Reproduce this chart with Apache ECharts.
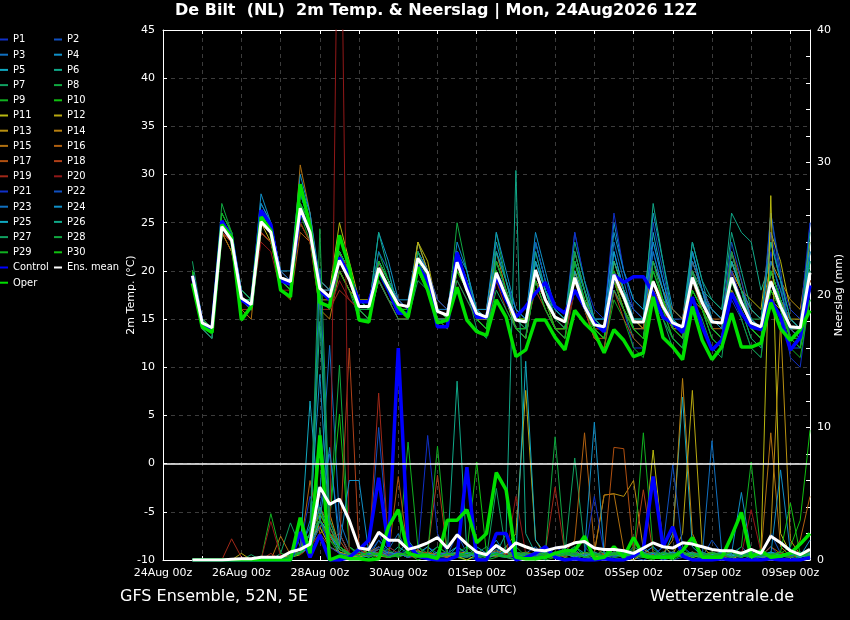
<!DOCTYPE html>
<html><head><meta charset="utf-8">
<script src="https://cdn.jsdelivr.net/npm/echarts@6/dist/echarts.min.js"></script>
<style>html,body{margin:0;padding:0;background:#000;}#c{width:850px;height:620px;}</style>
</head><body><div id="c"></div>
<script>
const FONT = "'DejaVu Sans', sans-serif";
const LEGEND_FONT = "'DejaVu Sans Condensed', 'DejaVu Sans', sans-serif";
const titleText = 'De Bilt  (NL)  2m Temp. & Neerslag | Mon, 24Aug2026 12Z';
const firstHour = 18, stepHours = 6; // 24Aug 18Z, 6-hourly, hours since 24Aug 00Z
const dateLabels = ['24Aug 00z','26Aug 00z','28Aug 00z','30Aug 00z','01Sep 00z','03Sep 00z','05Sep 00z','07Sep 00z','09Sep 00z'];
const memberNames = ['P1','P2','P3','P4','P5','P6','P7','P8','P9','P10','P11','P12','P13','P14','P15','P16','P17','P18','P19','P20','P21','P22','P23','P24','P25','P26','P27','P28','P29','P30'];

// ---- 2m temperature (°C) ----
const tMean = [19.5, 14.6,14.1,24.6,23.2, 17.2,16.5,25.1,24.0, 19.3,18.9,26.5,24.0, 18.2,17.3,21.1,19.1, 16.3,16.3,20.3,18.3, 16.5,16.3,21.3,19.8, 15.8,15.4,20.9,18.0, 15.6,15.2,19.8,17.3, 14.9,14.7,20.1,17.0, 15.2,14.7,19.3,16.3, 14.4,14.2,19.6,17.3, 14.7,14.7,18.9,16.3, 14.6,14.2,19.3,16.7, 14.7,14.6,19.3,16.7, 14.6,14.2,18.9,16.3, 14.2,14.1,19.8];
const tControl = [19.5, 14.5,14.0,25.2,23.5, 17.0,16.3,26.3,24.8, 19.0,18.6,26.3,24.2, 18.0,17.0,21.4,19.5, 16.8,16.8,20.0,18.0, 15.6,15.6,20.5,19.0, 14.2,14.2,21.9,18.5, 15.2,15.2,19.5,17.0, 15.2,16.3,17.7,18.8, 16.3,15.6,18.0,16.3, 14.6,13.7,19.6,18.8, 19.4,19.4,17.7,15.2, 14.6,13.6,17.3,14.2, 11.8,12.8,17.7,15.6, 14.2,13.9,17.0,15.2, 11.8,13.1,18.5];
const tOper = [18.7, 14.2,13.6,24.8,23.5, 14.9,16.3,25.6,24.2, 18.0,17.3,29.0,24.6, 16.7,16.3,23.7,20.4, 14.9,14.7,20.1,18.3, 16.3,15.2,20.4,18.0, 14.6,14.9,18.3,14.9, 13.7,13.3,17.0,15.2, 11.1,11.8,14.9,14.9, 13.1,11.8,15.9,14.6, 13.6,11.5,13.9,12.8, 11.1,11.5,17.3,13.1, 12.1,10.8,16.3,12.8, 10.8,12.1,15.6,12.1, 12.1,12.5,16.7,14.0, 12.8,13.9,15.9];
const tP1 = [20, 15,14,24,23, 17,16,25,24, 19,18,27,25, 18,17,22,19, 16,16,21,19, 17,16,22,20, 16,15,22,19, 15,14,20,18, 14,13,19,17, 15,14,21,17, 14,13,18,16, 12,12,17,15, 13,12,20,17, 14,13,17,15, 12,11,22,17, 11,10,18];
const tP2 = [19, 15,14,25,23, 17,17,26,24, 19,19,28,25, 19,18,22,20, 17,16,20,18, 16,16,22,20, 16,16,21,18, 16,15,21,18, 15,14,22,18, 16,15,24,19, 15,14,22,18, 15,14,20,17, 15,15,21,18, 16,15,19,17, 14,13,26,19, 12,12,25];
const tP3 = [20, 14,14,24,23, 18,17,27,25, 20,19,27,24, 18,17,21,19, 16,16,21,19, 17,16,21,19, 15,15,20,18, 15,14,20,17, 14,14,19,17, 15,14,20,16, 14,13,21,18, 16,15,22,18, 14,13,18,16, 13,12,20,17, 15,14,19,17, 15,14,21];
const tP4 = [20, 15,14,25,24, 18,17,28,25, 20,19,29,26, 18,18,22,20, 17,16,24,21, 17,17,23,20, 17,16,22,20, 16,16,23,19, 16,15,23,19, 16,15,20,17, 15,15,25,20, 17,16,26,21, 16,15,23,19, 15,14,21,18, 15,14,20,17, 14,13,23];
const tP5 = [19, 15,14,25,23, 17,16,24,23, 19,18,26,24, 18,17,21,19, 16,15,19,17, 16,16,21,19, 16,15,21,18, 15,15,19,17, 15,14,20,17, 14,14,18,16, 14,13,19,16, 14,14,24,19, 15,14,22,18, 14,13,20,17, 14,14,19,17, 15,14,20];
const tP6 = [20, 15,14,25,24, 17,17,26,24, 19,19,27,24, 18,17,21,20, 17,16,21,19, 17,16,20,19, 16,15,22,19, 15,14,20,17, 14,13,23,19, 15,15,18,16, 14,14,19,17, 15,14,19,17, 16,15,20,18, 17,16,26,24, 23,18,21,18, 14,13,18];
const tP7 = [21, 15,14,26,24, 18,17,25,24, 19,19,26,24, 17,16,20,18, 15,15,20,18, 16,15,21,19, 15,15,21,18, 14,13,19,17, 14,13,20,17, 14,13,18,16, 13,12,18,16, 13,12,17,15, 12,11,19,16, 14,13,18,16, 13,12,20,17, 14,13,19];
const tP8 = [19, 14,13,27,24, 17,16,25,24, 19,18,26,24, 18,17,21,20, 17,16,22,19, 16,16,21,19, 16,15,25,20, 15,14,24,19, 15,15,21,18, 16,15,19,17, 15,14,21,18, 15,15,20,17, 14,14,22,18, 15,14,21,18, 15,15,20,17, 14,14,22];
const tP9 = [20, 15,14,24,23, 17,16,25,24, 19,18,26,23, 18,17,21,19, 16,16,19,17, 16,16,22,20, 16,15,20,18, 16,15,19,17, 14,14,21,18, 15,14,20,17, 13,12,17,15, 12,11,17,15, 13,12,18,16, 13,12,18,15, 12,11,19,16, 12,11,17];
const tP10 = [20, 14,14,25,23, 17,16,24,23, 19,18,25,23, 17,17,20,18, 16,15,20,18, 16,16,21,19, 15,15,20,18, 15,14,20,17, 14,14,20,17, 15,14,21,18, 14,13,20,17, 15,14,19,16, 14,13,20,17, 14,13,21,18, 15,14,18,16, 14,14,20];
const tP11 = [20, 15,14,24,22, 17,16,25,23, 19,19,26,24, 18,18,25,21, 17,17,21,19, 17,16,23,21, 16,16,21,19, 16,15,21,18, 15,15,21,18, 15,14,20,17, 15,14,21,18, 16,15,21,18, 15,14,19,17, 15,14,20,18, 17,16,24,21, 16,15,20];
const tP12 = [19, 15,14,24,23, 17,17,25,24, 19,19,27,24, 18,17,22,19, 16,16,20,18, 17,16,23,20, 16,15,21,18, 16,15,20,17, 14,13,19,17, 14,14,22,18, 14,13,19,16, 14,13,18,16, 14,13,17,16, 15,14,21,18, 15,14,17,16, 15,15,19];
const tP13 = [20, 14,14,24,23, 18,17,26,25, 20,19,29,25, 19,18,22,19, 16,16,21,19, 16,16,22,20, 16,15,21,19, 16,16,22,18, 15,15,20,17, 15,14,19,17, 15,14,20,18, 14,13,18,16, 15,14,21,18, 16,15,20,18, 16,15,21,19, 17,16,23];
const tP14 = [20, 15,14,24,23, 17,16,24,23, 19,18,25,23, 16,15,20,18, 17,16,20,18, 16,16,21,19, 16,15,20,18, 16,16,20,17, 15,14,19,17, 15,15,20,17, 14,13,19,17, 15,14,19,17, 14,14,20,17, 14,13,18,16, 14,13,20,17, 14,14,19];
const tP15 = [19, 14,13,25,23, 16,15,25,24, 19,18,31,26, 18,17,20,18, 16,15,19,17, 15,15,20,18, 15,14,20,18, 15,15,21,18, 15,14,20,17, 15,14,20,17, 14,13,19,16, 14,13,18,16, 14,13,19,16, 14,14,21,18, 14,13,19,16, 13,12,18];
const tP16 = [20, 15,14,24,22, 17,16,24,23, 18,17,24,23, 18,17,21,19, 17,16,21,18, 16,15,20,19, 16,15,20,18, 15,14,20,17, 15,14,20,17, 15,14,19,16, 14,14,20,17, 15,14,19,17, 15,14,20,17, 15,15,22,18, 15,14,19,16, 14,14,18];
const tP17 = [20, 15,14,24,23, 17,17,25,24, 19,19,26,24, 18,17,20,18, 16,15,20,18, 16,15,20,18, 15,15,21,18, 16,15,20,17, 15,14,19,16, 14,13,19,16, 13,13,18,16, 14,14,21,18, 16,15,21,18, 15,14,22,18, 16,15,20,17, 15,14,19];
const tP18 = [20, 15,14,25,23, 17,16,24,23, 19,18,27,24, 17,17,21,19, 16,16,21,18, 16,15,22,20, 17,16,21,19, 15,14,19,17, 15,14,18,16, 14,14,19,16, 13,12,18,15, 13,12,18,16, 14,13,20,17, 15,14,22,19, 15,14,18,16, 14,13,18];
const tP19 = [19, 14,14,24,23, 16,16,24,23, 19,19,26,24, 17,16,18,17, 16,15,19,17, 15,15,20,18, 16,15,19,17, 15,14,19,16, 14,13,19,17, 15,14,18,16, 14,13,19,16, 14,13,18,16, 14,13,19,17, 15,14,20,17, 14,14,18,16, 14,13,19];
const tP20 = [20, 15,14,24,23, 17,16,23,22, 18,18,25,23, 16,16,19,17, 16,15,20,18, 16,15,20,18, 15,15,20,18, 15,14,19,17, 15,14,20,17, 14,13,18,16, 14,14,20,17, 14,13,19,16, 14,13,19,17, 14,13,20,17, 14,13,19,16, 14,14,19];
const tP21 = [20, 15,14,25,23, 17,17,26,24, 19,18,27,24, 18,17,21,19, 16,16,20,18, 17,16,21,20, 16,15,21,19, 16,15,21,18, 15,14,21,18, 15,14,24,19, 16,15,26,20, 16,15,23,19, 15,14,19,17, 15,14,20,17, 15,14,24,19, 16,15,25];
const tP22 = [20, 15,14,25,24, 17,17,26,24, 20,19,28,25, 18,18,22,20, 17,16,21,19, 17,16,22,20, 17,16,21,19, 16,15,22,19, 16,15,23,19, 16,15,21,18, 15,14,22,18, 16,15,25,20, 15,14,22,18, 16,15,23,19, 15,14,26,20, 13,12,22];
const tP23 = [19, 14,13,25,23, 18,17,26,24, 19,19,28,25, 18,17,21,19, 16,16,22,20, 16,15,21,19, 16,16,22,19, 16,15,22,19, 15,14,21,18, 16,15,22,18, 15,14,23,19, 15,15,22,18, 14,13,21,18, 14,13,22,18, 14,13,21,18, 14,13,20];
const tP24 = [20, 15,14,25,23, 18,17,27,25, 20,20,30,26, 19,18,22,20, 16,16,21,19, 16,16,22,20, 16,15,23,20, 16,16,24,20, 16,15,24,20, 16,15,21,18, 15,15,24,20, 17,16,23,19, 15,14,22,18, 15,14,21,18, 16,15,23,19, 15,14,22];
const tP25 = [20, 15,14,25,23, 17,16,25,24, 19,18,26,24, 18,17,21,19, 16,15,20,18, 16,15,20,18, 15,15,21,18, 15,14,20,17, 15,14,21,18, 15,14,20,17, 15,14,22,18, 14,13,21,18, 15,14,20,17, 16,15,21,18, 15,14,20,17, 14,14,21];
const tP26 = [20, 15,14,25,23, 17,17,26,24, 19,19,27,25, 18,17,22,20, 17,16,24,20, 16,16,21,19, 16,15,21,19, 16,15,22,19, 15,14,22,18, 16,15,23,19, 15,14,21,18, 15,15,27,21, 15,14,23,19, 17,16,24,20, 16,15,23,19, 15,14,24];
const tP27 = [20, 14,13,25,23, 17,16,25,24, 19,18,26,24, 18,17,21,19, 16,15,19,17, 15,15,19,18, 16,15,19,17, 15,14,18,16, 14,13,19,16, 14,13,21,17, 14,13,18,16, 14,13,19,16, 13,12,17,15, 12,11,19,16, 13,12,18,16, 13,12,17];
const tP28 = [19, 15,14,26,24, 17,17,26,24, 19,19,27,25, 18,17,21,19, 16,16,20,18, 16,15,22,19, 16,15,21,18, 15,14,21,18, 15,14,20,17, 15,14,22,18, 14,13,20,17, 14,13,21,17, 14,13,20,17, 14,13,22,18, 14,13,20,17, 13,13,21];
const tP29 = [20, 15,14,26,24, 18,17,26,24, 19,18,27,24, 17,16,20,18, 16,15,20,18, 16,15,21,19, 15,14,20,18, 15,14,21,18, 14,13,19,16, 14,13,21,17, 14,13,20,17, 14,13,19,16, 13,12,18,16, 13,12,19,16, 14,13,20,17, 13,13,18];
const tP30 = [20, 15,14,25,24, 17,16,25,24, 19,18,27,24, 18,17,22,20, 17,16,21,19, 16,16,21,19, 16,15,20,18, 15,14,20,17, 15,15,20,17, 14,14,19,16, 14,13,19,16, 14,13,20,17, 14,13,18,16, 14,13,19,17, 14,13,18,16, 13,12,17];

// ---- precipitation (mm per 6 h) ----
const pMean = [0, 0,0,0,0.05, 0.1,0.1,0.2,0.2, 0.2,0.6,0.8,1.2, 5.5,4.2,4.6,3.0, 0.9,0.8,2.1,1.5, 1.5,0.8,1.0,1.3, 1.7,0.9,1.9,1.2, 0.6,0.4,1.1,0.6, 1.3,1.0,0.75,0.7, 0.9,1.0,1.3,1.4, 0.9,0.8,0.8,0.7, 0.5,0.9,1.3,1.0, 0.9,1.3,1.2,1.0, 0.8,0.7,0.7,0.5, 0.8,0.5,1.8,1.3, 0.7,0.4,0.8];
const pControl = [0, 0,0,0,0, 0,0,0,0, 0,0,2.1,0.2, 1.9,0,0,0.2, 0.8,1.5,6.2,1.0, 16.0,1.2,0.3,0.1, 0,0,0.3,7.0, 0,0,2.0,2.0, 0,0.2,0.5,1.0, 0.2,0,0.1,0, 0,0.1,0,0, 0.3,0.8,6.3,1.0, 2.5,0.3,0,0, 0,0.1,0,0, 0,0,0.1,0, 0,0,0.2];
const pOper = [0, 0,0,0,0, 0,0,0,0, 0,0,3.2,0.5, 9.4,0,0.3,0.1, 0.1,0,0.1,2.5, 3.8,0.5,0.3,0.3, 0.1,3.0,3.0,3.8, 1.3,2.0,6.6,5.3, 0.2,0.1,0.1,0.2, 0.5,0.7,0.7,1.8, 0.1,0.2,1.0,0.2, 1.7,0.3,0.2,0.2, 0.2,0.7,1.7,0.2, 0.2,0.2,1.8,3.6, 0.2,0.7,0.2,0.3, 0.5,1.2,2.0];
const pP1 = [0, 0,0,0,0, 0,0,0,0, 0,0.3,1,2, 3,1,0.5,0.2, 0.5,1,2,0.5, 0.3,1,0.5,9.4, 2,0.5,1,0.3, 0,0.5,1,0.2, 0,0.5,0.3,0, 1,0.5,0.2,0, 0.3,0.5,0,0.2, 0,0.5,1,0.3, 0,0.2,0.5,0, 0.3,0,0.2,0.5, 0,0.3,1,0.2, 0,0.2,0.5];
const pP2 = [0, 0,0,0,0, 0,0,0,0.2, 0,0.5,0.8,1.5, 4,8,2,0.5, 0.3,0.5,10,1, 0.5,0.2,0.3,1, 0.5,0.3,2,0.5, 0.2,0,0.5,1, 0.3,0.2,0,0.5, 0.2,1,0.5,0.3, 0,0.2,0.8,0.5, 0.2,0,0.3,1, 0.5,0.3,0,0.2, 1.5,0.5,0.2,0, 0.3,0.5,2,0.5, 0.2,0,0.3];
const pP3 = [0, 0,0,0,0, 0,0,0,0, 0.2,0.3,1,2.5, 5,16.2,3,1, 0.5,0.2,1.5,0.8, 2,0.5,0.3,0.5, 1,0.5,0.3,0.2, 0.5,0.3,0.8,0.3, 0,0.5,1,0.2, 0.3,0.5,0.8,0.2, 0,0.3,0.5,0.2, 0.5,1,0.3,0, 0.2,0.5,0.3,0.2, 0,0.3,0.5,1, 0.3,0,0.5,0.3, 0.2,0.5,0];
const pP4 = [0, 0,0,0,0, 0,0,0,0, 0,0.2,0.5,3, 14,2,1,0.5, 0.3,0.5,1,0.3, 0.5,1.5,0.5,0.2, 0.3,0.2,1,0.5, 0.2,0.5,1.5,0.3, 0.2,0.5,0.3,0.2, 0.5,0.2,1,0.3, 0,0.2,0.3,0.5, 0.2,0.5,1,0.3, 0.5,0.2,0.3,0.5, 0.2,0.3,0.5,5.1, 0.5,0.2,0.3,0.5, 0.2,0.3,1.5];
const pP5 = [0, 0,0,0,0, 0,0,0,0, 0,0.3,0.8,12, 3,1.5,2,0.5, 0.2,0.3,1,0.5, 0.5,0.2,0.5,1, 0.3,0.5,0.2,0.3, 1,0.5,0.3,0.2, 0.5,0.3,0.5,0.2, 0.3,0.5,1,0.5, 0.2,0.3,0.5,0.2, 0.3,0.5,0.3,0.2, 2,12.3,1,0.3, 0.2,0.5,0.3,0.2, 0.5,0.3,0.2,0.5, 0.3,0.2,0.5];
const pP6 = [0, 0,0,0,0, 0,0,0,0, 0,0.2,0.5,2, 18,3,1,0.5, 0.5,0.2,0.5,0.3, 1,0.5,0.3,0.5, 0.2,0.5,1,0.5, 0.3,0.2,0.5,2, 29.4,2,0.5,0.3, 0.2,0.5,0.3,0.5, 0.2,0.3,0.5,0.2, 1,0.5,0.3,0.2, 0.5,0.3,0.5,0.2, 0.3,0.5,0.2,0.3, 0.5,0.2,0.3,0.5, 0.2,0.3,0.5];
const pP7 = [0, 0,0,0,0, 0,0.4,0,0, 0.5,2.8,1,0.5, 3,2,0.5,0.3, 0.2,0.5,1,0.3, 0.5,0.2,0.5,0.3, 0.2,0.5,0.3,0.2, 0.5,1,0.3,0.2, 0.3,0.5,0.2,0.5, 0.3,0.5,7.7,1, 0.2,0.3,0.5,0.2, 0.3,0.2,0.5,0.3, 0.2,0.5,0.3,0.2, 0.5,0.3,0.2,0.5, 0.3,0.2,0.5,0.3, 0.2,0.5,0.3];
const pP8 = [0, 0,0,0,0, 0,0,0,0, 0,0.2,0.5,1.5, 25,3,14.7,1, 0.5,0.3,0.5,0.2, 0.3,0.5,1,0.5, 0.2,0.3,0.5,0.3, 0.5,0.2,0.3,0.5, 0.2,0.3,0.5,0.2, 0.3,0.5,0.2,0.3, 0.5,0.3,0.2,0.5, 0.3,0.2,0.5,0.3, 0.2,0.5,0.3,0.2, 0.5,0.3,0.2,0.5, 0.3,0.2,0.5,0.3, 0.2,0.5,0.3];
const pP9 = [0, 0,0,0,0, 0,0,0,3.5, 0.5,0.3,1,2, 4,1.5,0.5,0.3, 1,0.5,0.3,0.5, 0.2,8.9,1,0.3, 0.5,0.2,0.5,1, 0.3,0,0.2,0.5, 1,0.3,0.5,0, 0.2,0.5,1,0.3, 0,0.5,0.2,0.3, 0.8,0.2,0,0.5, 0.3,1,0.2,0, 0.5,0.2,0.3,1, 7.4,0.5,0.2,0.3, 0.5,0,0.2];
const pP10 = [0, 0,0,0,0, 0,0,0,0, 0,0.2,0.5,1, 2,3,11,1, 0.3,0,0.5,0.8, 0.2,0.5,0,0.3, 1,0.5,0.2,0, 0.3,0.5,1.2,0.2, 0,0.3,0.5,0.2, 0.6,0.2,0,0.4, 0.3,0.8,0.2,0, 0.5,0.2,0.6,0.3, 0,0.4,0.2,0.5, 0.3,0,0.6,0.2, 0.4,0.2,0,0.5, 1,3,9.8];
const pP11 = [0, 0,0,0,0, 0,0,0,0, 0,0.2,0.4,1, 2.5,1,0.6,0.2, 0.4,0.8,0.3,0.2, 0.5,0.2,0.7,0.4, 0.2,0.6,0.3,0, 0.4,0.2,0.5,0.3, 0.6,0.2,0,0.4, 0.3,0.7,0.2,0.5, 0.2,0.4,0.6,0.3, 0,0.5,8.3,1.2, 0.3,0.5,0.2,0.4, 0.6,0.3,0,0.5, 0.2,0.6,27.5,2, 0.5,0.3,0.4];
const pP12 = [0, 0,0,0,0, 0.5,0,0,0, 0.2,0.3,0.5,1.2, 3,1.8,0.6,0.4, 0.2,0.5,0.8,0.3, 0.6,0.3,0.2,0.5, 0.4,0.2,0.6,0.3, 0.5,0.2,0.4,1, 2,12.8,1.5,0.3, 0.2,0.6,0.3,0.4, 0.5,0.2,0.4,0.3, 0.6,0.3,0.2,0.5, 0.4,2,12.8,1, 0.3,0.5,0.2,0.4, 0.6,0.2,0.3,0.5, 0.2,0.4,0.3];
const pP13 = [0, 0,0,0,0, 0,0,0,0, 0,0.3,0.6,1.5, 2.5,3.5,1,0.4, 0.3,0.6,0.4,0.2, 0.5,0.3,0.6,0.2, 0.4,0.3,0.5,0.6, 0.2,0.4,0.3,0.5, 0.6,0.2,0.4,0.3, 0.5,0.3,0.6,0.2, 0.5,4.9,5,4.8, 6,0.8,0.4,0.3, 0.5,0.2,0.4,0.6, 0.3,0.5,0.2,0.4, 0.6,0.3,2,18, 1.5,0.4,0.6];
const pP14 = [0, 0,0,0,0, 0,0,0,0, 0,0.2,0.5,2, 3.5,2,1,0.5, 0.3,0.5,0.2,0.6, 0.4,0.3,0.5,0.2, 0.6,0.4,0.3,0.5, 0.2,0.6,0.4,0.3, 0.5,0.2,0.6,0.4, 0.3,0.5,0.2,0.6, 0.4,0.3,0.5,0.2, 0.6,0.4,0.3,0.5, 1.5,13.7,2,0.4, 0.3,0.5,0.2,0.6, 0.4,0.3,0.5,0.2, 0.6,0.4,0.3];
const pP15 = [0, 0,0,0,0, 0,0,0,0, 1.8,0.4,0.6,1.5, 4,2.5,0.8,0.5, 0.3,0.6,1,0.4, 0.5,0.3,0.8,0.2, 0.4,0.6,0.3,0.5, 0.2,0.4,0.7,0.3, 0.5,0.2,0.4,0.6, 0.3,0.5,0.2,0.4, 0.6,4.9,5,0.8, 0.3,0.5,0.2,0.4, 0.6,0.3,0.5,0.2, 0.4,0.6,0.3,0.5, 0.2,0.4,9.6,1, 0.3,0.5,0.2];
const pP16 = [0, 0,0,0,0, 0,0,0,0, 0,0.3,0.8,6, 2,1,0.5,0.3, 0.6,0.4,0.8,0.3, 0.5,0.2,0.6,0.4, 0.3,0.5,0.2,0.6, 0.4,0.3,0.5,0.2, 0.6,0.4,0.3,0.5, 0.2,0.6,1.5,9.6, 1,0.4,0.3,0.5, 0.2,0.6,0.4,0.3, 0.5,0.2,0.6,0.4, 0.3,0.5,0.2,0.6, 0.4,0.3,1,0.5, 0.3,1.5,4.8];
const pP17 = [0, 0,0,0,0, 0,0,0,0, 0,0.2,0.6,1.2, 3,2,1.5,0.4, 0.3,0.6,0.8,0.4, 6.3,0.5,0.3,0.6, 0.4,0.2,0.5,0.3, 0.6,0.4,0.3,0.5, 0.2,0.6,0.4,0.3, 0.5,0.2,0.6,0.4, 0.3,0.5,8.5,8.4, 0.6,0.3,0.5,0.2, 0.4,0.6,0.3,0.5, 0.2,0.4,0.6,0.3, 0.5,0.2,0.4,0.6, 0.3,0.5,0.2];
const pP18 = [0, 0,0,0,0, 0,0,0,0, 0,0.3,0.6,1, 2,2.5,1,16, 0.8,0.4,0.6,0.3, 0.5,0.2,0.4,0.6, 6.4,0.5,0.3,0.4, 0.6,0.3,0.5,0.2, 0.4,0.6,0.3,0.5, 0.2,0.4,0.6,0.3, 0.5,0.2,0.4,0.6, 0.3,5.3,0.5,0.2, 0.4,0.6,0.3,0.5, 0.2,0.4,0.6,0.3, 0.5,0.2,0.4,0.6, 0.3,0.5,0.2];
const pP19 = [0, 0,0,0,1.6, 0.2,0,0,0.5, 0,0.3,0.8,1.5, 3,1.5,2,0.5, 0.3,0.6,12.6,1, 0.5,0.3,0.6,0.2, 0.4,0.6,0.3,0.5, 0.2,0.4,0.6,0.3, 0.5,0.2,0.4,0.6, 5.5,0.5,0.3,0.4, 0.6,0.3,0.5,0.2, 0.4,0.6,0.3,0.5, 0.2,0.4,0.6,0.3, 0.5,0.2,0.4,0.6, 0.3,0.5,0.2,0.4, 0.6,0.3,0.5];
const pP20 = [0, 0,0,0,0, 0,0,0,2.9, 0.3,0.5,0.4,1, 2,0.2,61,0.3, 0.5,0.3,0.8,0.4, 0.6,0.3,0.5,0.2, 0.4,0.6,0.3,0.5, 0.2,0.4,0.6,0.3, 4.8,0.5,0.2,0.4, 0.6,0.3,0.5,0.2, 0.4,0.6,0.3,0.5, 0.2,0.4,0.6,0.3, 0.5,0.2,0.4,0.6, 0.3,0.5,0.2,0.4, 3.8,0.6,0.3,0.5, 0.2,0.4,0.6];
const pP21 = [0, 0,0,0,0, 0,0,0,0, 0,0.2,1,4.8, 3,1,0.5,0.3, 0.6,0.4,1,0.3, 0.5,0.2,0.6,0.4, 0.3,0.5,0.2,0.6, 0.4,0.3,0.5,0.2, 0.6,0.4,0.3,0.5, 0.2,0.6,0.4,0.3, 4.8,0.5,0.2,0.6, 0.4,0.3,0.5,0.2, 0.6,0.4,0.3,0.5, 0.2,0.6,0.4,0.3, 0.5,0.2,0.6,0.4, 0.3,0.5,0.2];
const pP22 = [0, 0,0,0,0, 0,0,0,0, 0,0.3,0.5,1, 2.5,3,1,0.5, 0.3,0.5,1.5,0.4, 0.6,0.3,0.5,0.2, 0.4,0.6,0.3,0.5, 0.2,0.4,0.6,0.3, 0.5,0.2,0.4,0.6, 0.3,0.5,0.2,0.4, 0.6,0.3,0.5,0.2, 0.4,0.6,0.3,1, 7.2,1,0.4,0.6, 0.3,0.5,0.2,0.4, 0.6,0.3,0.5,0.2, 0.4,0.6,0.3];
const pP23 = [0, 0,0,0,0, 0,0,0,0, 0,0.2,0.5,1.5, 22,2,0.5,0.3, 0.6,0.4,0.8,0.3, 0.5,0.2,0.6,0.4, 0.3,0.5,0.2,0.6, 0.4,0.3,0.5,0.2, 0.6,0.4,0.3,0.5, 0.2,0.6,0.4,0.3, 0.5,0.2,0.6,0.4, 0.3,0.5,0.2,0.6, 0.4,0.3,0.5,0.2, 9,0.6,0.4,0.3, 0.5,0.2,0.6,0.4, 0.3,0.5,0.2];
const pP24 = [0, 0,0,0,0, 0,0,0,0, 0,0.3,0.6,2, 3,8.5,1,6, 6,0.5,0.3,0.6, 0.4,0.3,0.5,0.2, 0.6,0.4,0.3,0.5, 0.2,0.6,0.4,0.3, 0.5,0.2,0.6,0.4, 0.3,0.5,0.2,0.6, 10.4,0.5,0.3,0.4, 0.6,0.3,0.5,0.2, 0.4,0.6,0.3,0.5, 0.2,0.4,0.6,0.3, 0.5,0.2,0.4,6.8, 0.6,0.3,0.5];
const pP25 = [0, 0,0,0,0, 0,0,0,0, 0,0.2,0.5,1, 3,2,0.8,0.4, 0.3,0.6,0.5,0.2, 0.4,0.6,0.3,0.5, 0.2,0.4,0.6,0.3, 0.5,0.2,0.4,0.6, 0.3,15,1.5,0.5, 0.2,0.4,0.6,0.3, 0.5,0.2,0.4,0.6, 0.3,0.5,0.2,0.4, 0.6,0.3,0.5,0.2, 0.4,0.6,0.3,0.5, 0.2,0.4,0.6,0.3, 0.5,0.2,0.4];
const pP26 = [0, 0,0,0,0, 0,0,0,0, 0,0.2,0.6,1.5, 4,2,1,0.5, 0.3,0.6,0.4,0.2, 0.5,0.3,0.6,0.4, 0.2,0.5,13.5,0.6, 0.3,0.4,0.6,0.2, 0.5,0.3,0.4,0.6, 0.2,0.5,0.3,0.4, 0.6,0.2,0.5,0.3, 0.4,0.6,0.2,0.5, 0.3,0.4,0.6,0.2, 0.5,0.3,0.4,0.6, 0.2,0.5,0.3,0.4, 0.6,0.2,0.5];
const pP27 = [0, 0,0,0,0, 0,0,0,0, 0,0.3,0.8,2, 20,2.5,1,0.4, 0.6,0.3,0.5,0.2, 0.4,0.6,0.3,0.5, 0.2,0.4,0.6,0.3, 0.5,0.2,5.4,0.6, 0.3,0.5,0.2,0.4, 0.6,0.3,0.5,0.2, 0.4,0.6,0.3,0.5, 0.2,0.4,0.6,0.3, 0.5,0.2,0.4,0.6, 0.3,0.5,0.2,0.4, 0.6,0.3,0.5,0.2, 0.4,0.6,0.3];
const pP28 = [0, 0,0,0,0, 0,0,0,0, 0,0.2,0.5,1.5, 10,3,1,0.5, 0.3,0.6,0.4,0.2, 0.5,0.3,0.6,0.4, 0.2,0.5,0.3,0.6, 0.4,0.2,0.5,0.3, 0.6,0.4,0.2,0.5, 9.3,0.6,0.4,0.2, 0.5,0.3,0.6,0.4, 0.2,0.5,0.3,0.6, 0.4,0.2,0.5,0.3, 0.6,0.4,0.2,0.5, 0.3,0.6,0.4,0.2, 0.5,0.3,0.6];
const pP29 = [0, 0,0,0,0, 0,0,0,0, 0,0.3,0.6,1.5, 3,1.5,0.8,0.4, 0.6,0.3,0.5,0.2, 0.4,0.6,0.3,0.5, 8.6,0.5,0.3,0.4, 0.6,0.2,0.5,0.3, 0.4,0.6,0.2,0.5, 0.3,0.4,0.6,0.2, 0.5,0.3,0.4,0.6, 0.2,9.6,0.8,0.3, 0.4,0.6,0.2,0.5, 0.3,0.4,0.6,0.2, 0.5,0.3,0.4,0.6, 0.2,0.5,0.3];
const pP30 = [0, 0,0,0,0, 0,0,0,0, 0,0.2,0.5,1.2, 3.5,2,1,0.5, 0.3,0.6,0.4,0.2, 0.5,0.3,0.6,0.4, 0.2,0.5,0.3,0.6, 7.4,0.5,0.4,0.2, 0.5,0.3,0.6,0.4, 0.2,0.5,0.3,0.6, 0.4,0.2,0.5,0.3, 0.6,0.4,0.2,0.5, 0.3,0.6,0.4,0.2, 0.5,0.3,0.6,0.4, 0.2,0.5,0.3,0.6, 4.3,0.4,0.2];

const tempMembers = [tP1,tP2,tP3,tP4,tP5,tP6,tP7,tP8,tP9,tP10,tP11,tP12,tP13,tP14,tP15,tP16,tP17,tP18,tP19,tP20,tP21,tP22,tP23,tP24,tP25,tP26,tP27,tP28,tP29,tP30];
const precMembers = [pP1,pP2,pP3,pP4,pP5,pP6,pP7,pP8,pP9,pP10,pP11,pP12,pP13,pP14,pP15,pP16,pP17,pP18,pP19,pP20,pP21,pP22,pP23,pP24,pP25,pP26,pP27,pP28,pP29,pP30];

// ---- styles ----
const baseColors = ['#1030c8','#1050c0','#1070c0','#1090c8','#10a8c0','#10a888','#10a060','#10a840','#10b020','#10c010',
                    '#b8b810','#b8a810','#b89010','#b88010','#b07010','#b06010','#b05010','#b04018','#a02818','#901818'];
const memberColors = memberNames.map((n,k)=> baseColors[k < 20 ? k : k - 20]);
const CONTROL_COLOR = '#0000ff', OPER_COLOR = '#00e000', MEAN_COLOR = '#ffffff';

const toPairs = arr => arr.map((v,i)=>[firstHour + i*stepHours, v]);
function lineSeries(name, arr, yIdx, color, width, z){
  return {name, type:'line', xAxisIndex:0, yAxisIndex:yIdx, data:toPairs(arr), symbol:'none',
    lineStyle:{width, color}, itemStyle:{color}, silent:true, animation:false, z, clip:true};
}
const series = [];
tempMembers.forEach((a,k)=>series.push(lineSeries(memberNames[k], a, 0, memberColors[k], 1, 2)));
precMembers.forEach((a,k)=>series.push(lineSeries(memberNames[k], a, 1, memberColors[k], 1, 2)));
series[0].markLine = {silent:true, symbol:'none', label:{show:false}, animation:false,
  lineStyle:{color:'#ffffff', width:1.5, type:'solid'}, data:[{yAxis:0}]};
series.push(lineSeries('Control', tControl, 0, CONTROL_COLOR, 3.5, 3));
series.push(lineSeries('Control', pControl, 1, CONTROL_COLOR, 3.5, 3));
series.push(lineSeries('Oper', tOper, 0, OPER_COLOR, 3.5, 4));
series.push(lineSeries('Oper', pOper, 1, OPER_COLOR, 3.5, 4));
series.push(lineSeries('Ens. mean', tMean, 0, MEAN_COLOR, 3, 5));
series.push(lineSeries('Ens. mean', pMean, 1, MEAN_COLOR, 3, 5));

const legendCol1 = memberNames.filter((n,k)=>k%2===0).concat(['Control','Oper']);
const legendCol2 = memberNames.filter((n,k)=>k%2===1).concat(['Ens. mean']);
const legendBase = {orient:'vertical', top:33, itemWidth:8, itemHeight:2, itemGap:2.2, icon:'rect', padding:0,
  selectedMode:false, textStyle:{color:'#fff', fontSize:11, fontFamily:LEGEND_FONT, lineHeight:13}};

const white = {color:'#ffffff'};
const dashed = {color:'#3c3c3c', type:[4,4], width:1};

const option = {
  backgroundColor:'#000000',
  animation:false,
  textStyle:{fontFamily:FONT},
  grid:{left:163, right:40, top:30, bottom:60, containLabel:false, outerBoundsMode:'none'},
  legend:[Object.assign({}, legendBase, {left:0, data:legendCol1}), Object.assign({}, legendBase, {left:54, data:legendCol2})],
  xAxis:[
    {type:'value', min:0, max:396, interval:24, position:'bottom',
     axisLine:{show:true, onZero:false, lineStyle:white}, axisTick:{show:true, inside:true, length:4, lineStyle:white},
     axisLabel:{color:'#fff', fontSize:11, margin:8, fontFamily:FONT, formatter:v=> v%48===0 ? dateLabels[v/48] : ''},
     splitLine:{show:true, lineStyle:dashed},
     name:'Date (UTC)', nameLocation:'middle', nameGap:25, nameMoveOverlap:false, nameTextStyle:{color:'#fff', fontSize:11, fontFamily:FONT}},
    {type:'value', min:0, max:396, interval:24, position:'top',
     axisLine:{show:true, onZero:false, lineStyle:white}, axisTick:{show:true, inside:true, length:4, lineStyle:white},
     axisLabel:{show:false}, splitLine:{show:false}}
  ],
  yAxis:[
    {type:'value', min:-10, max:45, interval:5, position:'left',
     axisLine:{show:true, onZero:false, lineStyle:white}, axisTick:{show:true, inside:true, length:4, lineStyle:white},
     axisLabel:{color:'#fff', fontSize:11, margin:8, fontFamily:FONT},
     splitLine:{show:true, lineStyle:dashed},
     name:'2m Temp. (°C)', nameLocation:'middle', nameGap:26, nameRotate:90, nameMoveOverlap:false, nameTextStyle:{color:'#fff', fontSize:11, fontFamily:FONT}},
    {type:'value', min:0, max:40, interval:10, position:'right',
     axisLine:{show:true, onZero:false, lineStyle:white}, axisTick:{show:true, inside:true, length:4, lineStyle:white},
     minorTick:{show:true, splitNumber:5, length:4, lineStyle:white},
     axisLabel:{color:'#fff', fontSize:11, margin:7, fontFamily:FONT},
     splitLine:{show:false},
     name:'Neerslag (mm)', nameLocation:'middle', nameGap:24, nameRotate:90, nameMoveOverlap:false, nameTextStyle:{color:'#fff', fontSize:11, fontFamily:FONT}}
  ],
  graphic:[
    {type:'text', left:175, top:3, style:{text:titleText, fill:'#fff', font:"bold 16px "+FONT}},
    {type:'text', left:120, top:589, style:{text:'GFS Ensemble, 52N, 5E', fill:'#fff', font:"16px "+FONT}},
    {type:'text', left:650, top:589, style:{text:'Wetterzentrale.de', fill:'#fff', font:"16px "+FONT}}
  ],
  series
};
const chart = echarts.init(document.getElementById('c'), null, {renderer:'canvas'});
chart.setOption(option);
</script></body></html>
